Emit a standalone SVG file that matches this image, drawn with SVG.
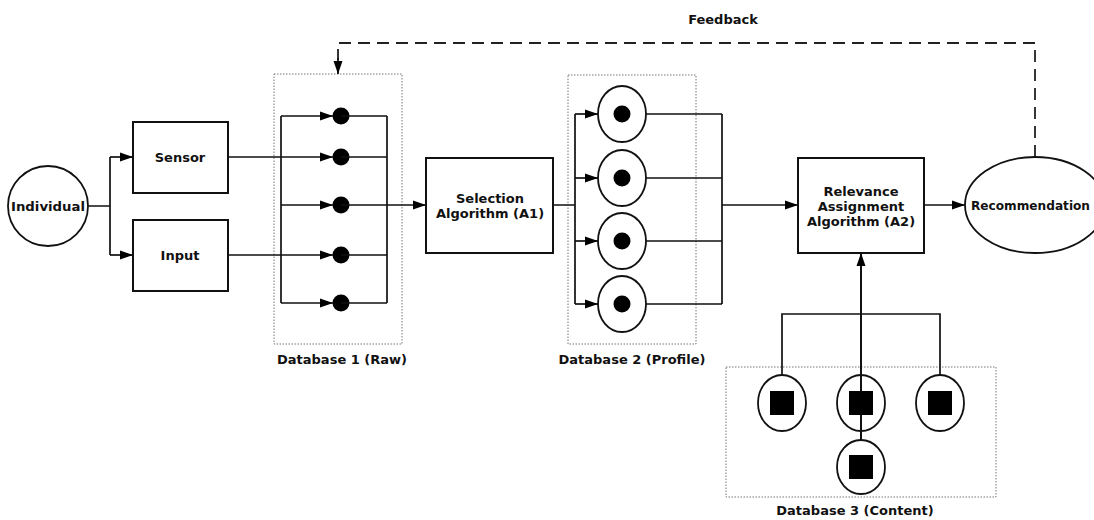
<svg xmlns="http://www.w3.org/2000/svg" width="1094" height="520" viewBox="0 0 1094 520">
<style>
.box{fill:#fff;stroke:#111;stroke-width:2}
.ring{fill:#fff;stroke:#111;stroke-width:1.8}
.dot{fill:#000}
.db{fill:none;stroke:#777;stroke-width:1;stroke-dasharray:1.5 1.5}
.ln{fill:none;stroke:#111;stroke-width:1.7}
.dash{fill:none;stroke:#222;stroke-width:1.8;stroke-dasharray:12 7}
text{font-family:"DejaVu Sans","Liberation Sans",sans-serif;font-weight:bold;font-size:13px;fill:#111;text-anchor:middle}
</style>
<defs>
<marker id="ah" markerUnits="userSpaceOnUse" markerWidth="14" markerHeight="10" refX="13" refY="5" orient="auto">
<path d="M0,0.5 L13,5 L0,9.5 Z" fill="#000"/>
</marker>
</defs>

<g id="db1">
<rect class="db" x="274" y="74" width="128" height="270"/>
<text x="342" y="364">Database 1 (Raw)</text>
<circle class="dot" cx="341" cy="116" r="8.5"/>
<circle class="dot" cx="341" cy="157" r="8.5"/>
<circle class="dot" cx="341" cy="205" r="8.5"/>
<circle class="dot" cx="341" cy="255" r="8.5"/>
<circle class="dot" cx="341" cy="303" r="8.5"/>
</g>

<g id="db2">
<rect class="db" x="568" y="75" width="128" height="269"/>
<text x="632" y="364">Database 2 (Profile)</text>
<ellipse class="ring" cx="622" cy="114" rx="24" ry="28"/>
<circle class="dot" cx="622" cy="114" r="8.5"/>
<ellipse class="ring" cx="622" cy="178" rx="24" ry="28"/>
<circle class="dot" cx="622" cy="178" r="8.5"/>
<ellipse class="ring" cx="622" cy="241" rx="24" ry="28"/>
<circle class="dot" cx="622" cy="241" r="8.5"/>
<ellipse class="ring" cx="622" cy="304" rx="24" ry="28"/>
<circle class="dot" cx="622" cy="304" r="8.5"/>
</g>

<g id="db3">
<rect class="db" x="726" y="367" width="270" height="130"/>
<text x="855" y="515">Database 3 (Content)</text>
</g>

<g id="connectors">
<path class="ln" d="M88,206 H110 M110,157 V255"/>
<path class="ln" d="M110,157 H133" marker-end="url(#ah)"/>
<path class="ln" d="M110,255 H133" marker-end="url(#ah)"/>
<path class="ln" d="M228,157 H333" marker-end="url(#ah)"/>
<path class="ln" d="M228,255 H333" marker-end="url(#ah)"/>
<path class="ln" d="M281,116 V303"/>
<path class="ln" d="M281,116 H333" marker-end="url(#ah)"/>
<path class="ln" d="M281,205 H333" marker-end="url(#ah)"/>
<path class="ln" d="M281,303 H333" marker-end="url(#ah)"/>
<path class="ln" d="M341,116 H387 M341,157 H387 M341,205 H387 M341,255 H387 M341,303 H387 M387,116 V303"/>
<path class="ln" d="M387,205 H426" marker-end="url(#ah)"/>
<path class="ln" d="M553,205 H575 M575,114 V304"/>
<path class="ln" d="M575,114 H598" marker-end="url(#ah)"/>
<path class="ln" d="M575,178 H598" marker-end="url(#ah)"/>
<path class="ln" d="M575,241 H598" marker-end="url(#ah)"/>
<path class="ln" d="M575,304 H598" marker-end="url(#ah)"/>
<path class="ln" d="M646,114 H722 M646,178 H722 M646,241 H722 M646,304 H722 M722,114 V304"/>
<path class="ln" d="M722,205 H798" marker-end="url(#ah)"/>
<path class="ln" d="M924,205 H965" marker-end="url(#ah)"/>
<path class="ln" d="M782,375 V314 H940 V375"/>
<path class="ln" d="M861,440 V253" marker-end="url(#ah)" style="stroke-width:2"/>
<path class="dash" d="M1035,157 V43 H338 V60"/>
<path class="ln" d="M338,58 V74" marker-end="url(#ah)"/>
<text x="723" y="24">Feedback</text>
</g>

<g id="db3-items">
<ellipse class="ring" cx="782" cy="403" rx="24" ry="28" style="fill:none"/>
<rect class="dot" x="770" y="391" width="24" height="24"/>
<ellipse class="ring" cx="861" cy="403" rx="24" ry="28" style="fill:none"/>
<rect class="dot" x="849" y="391" width="24" height="24"/>
<ellipse class="ring" cx="940" cy="403" rx="24" ry="28" style="fill:none"/>
<rect class="dot" x="928" y="391" width="24" height="24"/>
<ellipse class="ring" cx="861" cy="467" rx="24" ry="27" style="fill:none"/>
<rect class="dot" x="849" y="455" width="24" height="24"/>
</g>

<g id="individual">
<circle class="ring" cx="48" cy="206" r="40"/>
<text x="48" y="211" textLength="74" lengthAdjust="spacingAndGlyphs">Individual</text>
</g>
<g id="sensor">
<rect class="box" x="133" y="122" width="95" height="71"/>
<text x="180" y="162">Sensor</text>
</g>
<g id="input">
<rect class="box" x="133" y="220" width="95" height="71"/>
<text x="180" y="260">Input</text>
</g>
<g id="selection">
<rect class="box" x="426" y="158" width="127" height="95"/>
<text x="490" y="203">Selection</text>
<text x="490" y="218">Algorithm (A1)</text>
</g>
<g id="relevance">
<rect class="box" x="798" y="158" width="126" height="95"/>
<text x="861" y="196">Relevance</text>
<text x="861" y="211">Assignment</text>
<text x="861" y="226">Algorithm (A2)</text>
</g>
<g id="recommendation">
<ellipse class="ring" cx="1035" cy="205" rx="70" ry="48"/>
<text x="971" y="210" style="text-anchor:start" textLength="119" lengthAdjust="spacingAndGlyphs">Recommendation</text>
</g>
</svg>
